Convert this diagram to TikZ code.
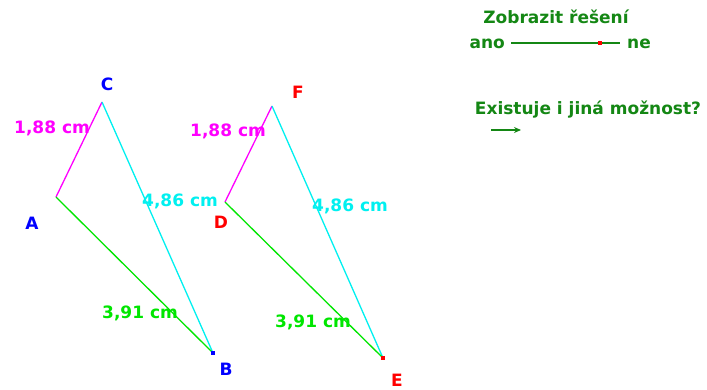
\documentclass[tikz,border=0pt]{standalone}
\usepackage{fontspec}
\setmainfont{DejaVu Sans}
\usetikzlibrary{arrows.meta}
\definecolor{dgreen}{RGB}{20,135,20}
\definecolor{lgreen}{RGB}{0,230,0}
\definecolor{lcyan}{RGB}{0,240,240}
\definecolor{lmag}{RGB}{255,0,255}
\definecolor{lblue}{RGB}{0,0,255}
\definecolor{lred}{RGB}{255,0,0}
\tikzset{
  txt/.style={font=\bfseries\fontsize{17}{19}\selectfont, inner sep=0pt},
  pt/.style={inner sep=0pt, minimum size=4pt, fill=#1, draw=none},
  seg/.style={line width=1.3pt, draw=#1},
}
\begin{document}
\begin{tikzpicture}[x=1pt,y=-1pt]
\useasboundingbox (0,0) rectangle (707,389);
\fill[white] (0,0) rectangle (707,389);
% first triangle
\coordinate (A) at (56,197);
\coordinate (C) at (102,102);
\coordinate (B) at (213,353);
\draw[seg=lmag] (A) -- (C);
\draw[seg=lcyan] (C) -- (B);
\draw[seg=lgreen] (A) -- (B);
\node[pt=lblue] (Bp) at (B) {};
\node[txt, text=lblue] (lA) at (32,223) {A};
\node[txt, text=lblue] (lC) at (107,84) {C};
\node[txt, text=lblue] (lB) at (226,369) {B};
\node[txt, text=lmag] (m1) at (52,128) {1,88 cm};
\node[txt, text=lcyan] (c1) at (180,201) {4,86 cm};
\node[txt, text=lgreen] (g1) at (140,313) {3,91 cm};
% second triangle
\coordinate (D) at (225,202);
\coordinate (F) at (272,106);
\coordinate (E) at (383,358);
\draw[seg=lmag] (D) -- (F);
\draw[seg=lcyan] (F) -- (E);
\draw[seg=lgreen] (D) -- (E);
\node[pt=lred] (Ep) at (E) {};
\node[txt, text=lred] (lD) at (221,222) {D};
\node[txt, text=lred] (lF) at (298,92) {F};
\node[txt, text=lred] (lE) at (397,380) {E};
\node[txt, text=lmag] (m2) at (228,131) {1,88 cm};
\node[txt, text=lcyan] (c2) at (350,206) {4,86 cm};
\node[txt, text=lgreen] (g2) at (313,322) {3,91 cm};
% controls
\node[txt, text=dgreen] (zob) at (556,17) {Zobrazit řešení};
\node[txt, text=dgreen, anchor=east] (ano) at (505,44) {ano};
\node[txt, text=dgreen, anchor=west] (ne) at (627,44) {ne};
\coordinate (s1) at (511,43);
\coordinate (s2) at (620,43);
\draw[line width=1.3pt, dgreen] (s1) -- (s2);
\node[pt=lred] (sp) at (600,43) {};
\node[txt, text=dgreen] (ex) at (588,110) {Existuje i jiná možnost?};
\coordinate (a1) at (491,130);
\coordinate (a2) at (521,130);
\draw[line width=1.3pt, dgreen, -{Stealth[length=7pt,width=6pt]}] (a1) -- (a2);
\end{tikzpicture}
\end{document}
